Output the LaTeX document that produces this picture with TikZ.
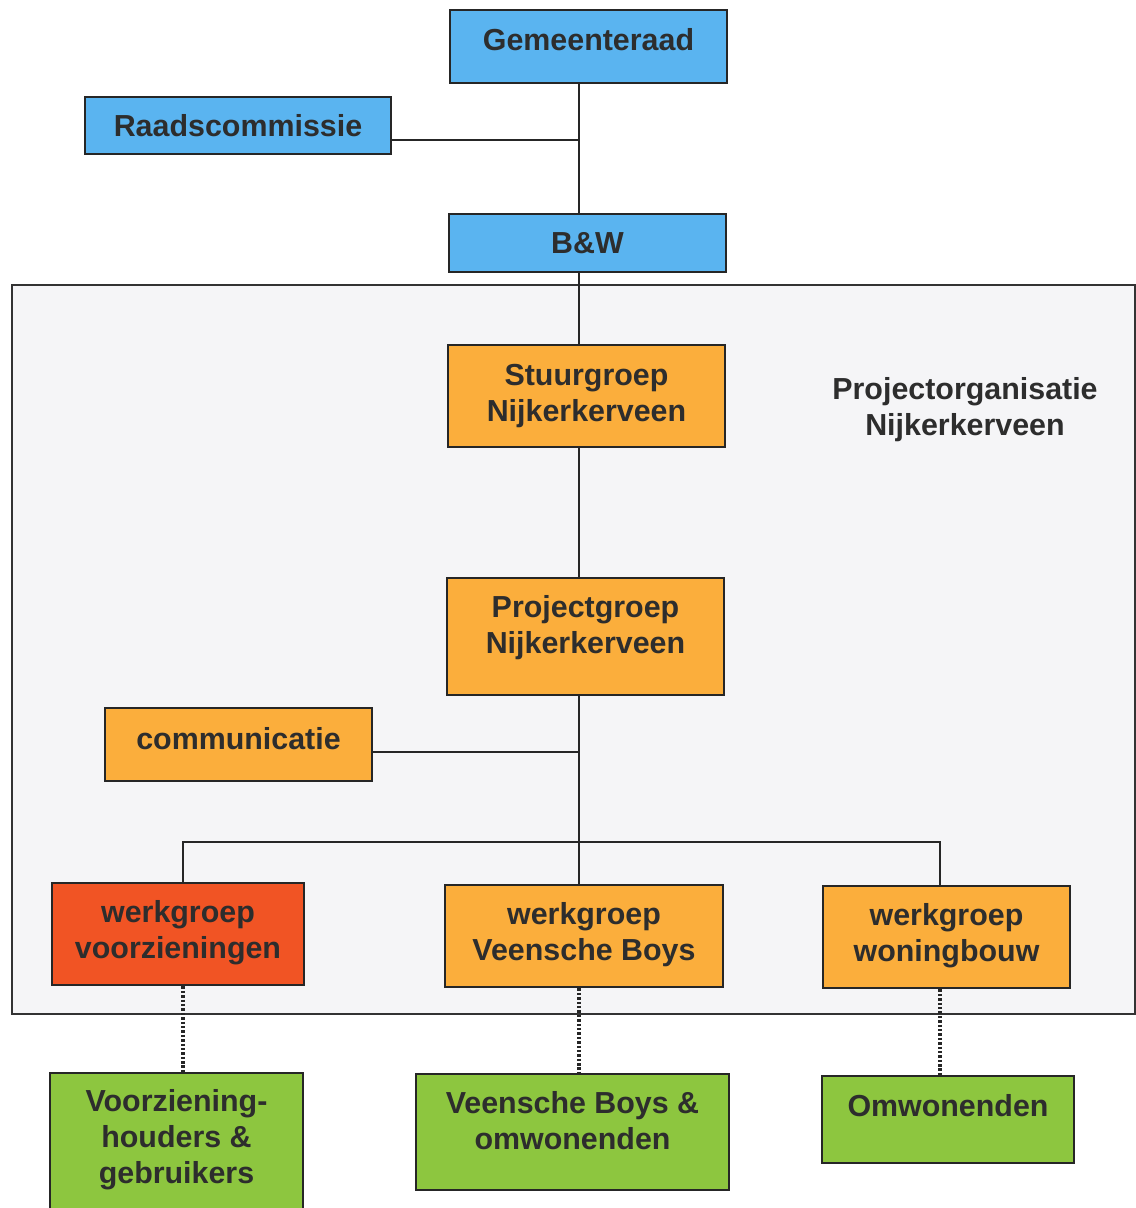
\documentclass[tikz,border=0pt]{standalone}
\usepackage{fontspec}
\setmainfont{Liberation Sans}
\usepackage{tikz}

\newcommand{\lift}[2]{\raisebox{#1}[\height][\depth]{\begin{tabular}{@{}c@{}}#2\end{tabular}}}

\definecolor{raadblue}{RGB}{90,180,240}
\definecolor{projorange}{RGB}{251,174,60}
\definecolor{wgred}{RGB}{241,84,36}
\definecolor{burgergreen}{RGB}{141,198,63}
\definecolor{framegray}{RGB}{245,245,247}
\definecolor{inkgray}{RGB}{45,45,45}

\begin{document}
\begin{tikzpicture}[
    gremium/.style={draw=black!85, line width=1.6pt, inner sep=0pt,
      font=\fontsize{17.3}{20.4}\selectfont\bfseries, text=inkgray},
    bestuur/.style={gremium, fill=raadblue},
    project/.style={gremium, fill=projorange},
    burger/.style={gremium, fill=burgergreen},
    conn/.style={draw=black!85, line width=1.5pt},
    contact/.style={draw=black!85, line width=2pt, dash pattern=on 1.4pt off 1.1pt}
  ]
      \useasboundingbox (0,0) rectangle (22.72,-24.16);
      \draw[fill=framegray, draw=black!80, line width=1.2pt] (0.24,-5.70) rectangle (22.70,-20.28);

      \coordinate (trunk) at (11.58,0);
      \coordinate (raadjoin) at (11.58,-2.80);
      \coordinate (commjoin) at (11.58,-15.04);
      \coordinate (vleft) at (3.66,-16.84);
      \coordinate (vright) at (18.80,-16.84);

      \node[bestuur, minimum width=5.54cm, minimum height=1.46cm] (gemeente) at (11.77,-0.93) {\lift{2pt}{Gemeenteraad}};
      \node[bestuur, minimum width=6.12cm, minimum height=1.14cm] (raad) at (4.76,-2.51) {Raadscommissie};
      \node[bestuur, minimum width=5.54cm, minimum height=1.16cm] (bw) at (11.75,-4.86) {B\&W};

      \node[project, minimum width=5.54cm, minimum height=2.04cm] (stuur) at (11.73,-7.92) {\lift{-0.2pt}{Stuurgroep\\Nijkerkerveen}};
      \node[font=\fontsize{17.3}{20.4}\selectfont\bfseries, text=inkgray, align=center] (po) at (19.30,-8.20) {Projectorganisatie\\Nijkerkerveen};
      \node[project, minimum width=5.54cm, minimum height=2.34cm] (projg) at (11.71,-12.73) {\lift{4.8pt}{Projectgroep\\Nijkerkerveen}};
      \node[project, minimum width=5.34cm, minimum height=1.46cm] (comm) at (4.77,-14.89) {\lift{1.3pt}{communicatie}};

      \node[gremium, fill=wgred, minimum width=5.04cm, minimum height=2.04cm] (wgv) at (3.56,-18.68) {\lift{0.3pt}{werkgroep\\voorzieningen}};
      \node[project, minimum width=5.56cm, minimum height=2.04cm] (wgvb) at (11.68,-18.72) {\lift{0.3pt}{werkgroep\\Veensche Boys}};
      \node[project, minimum width=4.94cm, minimum height=2.04cm] (wgw) at (18.93,-18.74) {\lift{0.3pt}{werkgroep\\woningbouw}};

      \node[burger, minimum width=5.06cm, minimum height=2.78cm] (vh) at (3.53,-22.85) {\lift{1.3pt}{Voorziening-\\houders \&\\gebruikers}};
      \node[burger, minimum width=6.26cm, minimum height=2.32cm] (vbo) at (11.45,-22.64) {\lift{4.3pt}{Veensche Boys \&\\omwonenden}};
      \node[burger, minimum width=5.04cm, minimum height=1.74cm] (omw) at (18.96,-22.39) {\lift{6pt}{Omwonenden}};

      \draw[conn] (gemeente.south -| trunk) -- (bw.north -| trunk);
      \draw[conn] (raad.east |- raadjoin) -- (raadjoin);
      \draw[conn] (bw.south -| trunk) -- (stuur.north -| trunk);
      \draw[conn] (stuur.south -| trunk) -- (projg.north -| trunk);
      \draw[conn] (projg.south -| trunk) -- (wgvb.north -| trunk);
      \draw[conn] (comm.east |- commjoin) -- (commjoin);
      \draw[conn] (wgv.north -| vleft) -- (vleft) -- (vright) -- (wgw.north -| vright);

      \draw[contact] (wgv.south -| vleft) -- (vh.north -| vleft);
      \draw[contact] (wgvb.south -| trunk) -- (vbo.north -| trunk);
      \draw[contact] (wgw.south -| vright) -- (omw.north -| vright);
\end{tikzpicture}
\end{document}
